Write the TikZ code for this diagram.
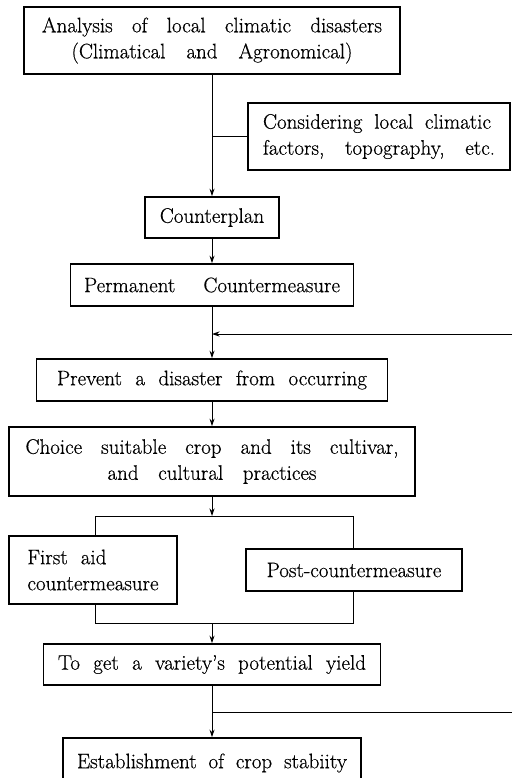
\documentclass[tikz,border=0pt]{standalone}
\usepackage{fontspec}
\setmainfont{Latin Modern Roman}[FakeBold=0.5]
\usetikzlibrary{arrows.meta}
\newcommand{\jl}[2]{\makebox[#1][s]{#2}}
\begin{document}
\begin{tikzpicture}[x=1pt,y=-1pt,
  flowbox/.style={draw, line width=1.6pt, inner sep=0pt, align=center,
    font=\fontsize{21}{26}\selectfont},
  conn/.style={line width=0.9pt},
  arr/.style={conn, -{Stealth[length=7.5pt,width=5pt]}}]
\clip (0,0) rectangle (512,778);
\fill[white] (0,0) rectangle (512,778);

\node[flowbox, minimum width=376pt, minimum height=67pt] (b1) at (212,40.5)
  {\jl{340pt}{Analysis of local climatic disasters}\\ \jl{281pt}{(Climatical and Agronomical)}};
\node[flowbox, minimum width=262pt, minimum height=67pt, align=left] (cons) at (379,136.5)
  {\jl{228pt}{Considering local climatic}\\ \jl{232pt}{factors, topography, etc.}};
\node[flowbox, minimum width=134pt, minimum height=41pt] (cp) at (212,217.5) {Counterplan};
\node[flowbox, minimum width=283pt, minimum height=42pt] (pm) at (212,285)
  {\jl{256pt}{Permanent Countermeasure}};
\node[flowbox, minimum width=351pt, minimum height=42pt] (pv) at (212,380)
  {\jl{310pt}{Prevent a disaster from occurring}};
\node[flowbox, minimum width=406pt, minimum height=69pt] (ch) at (212,461.5)
  {\jl{373pt}{Choice suitable crop and its cultivar,}\\ \jl{209pt}{and cultural practices}};
\node[flowbox, minimum width=168pt, minimum height=68pt, align=left] (fa) at (93,570)
  {\jl{79pt}{First aid}\\ countermeasure};
\node[flowbox, minimum width=216pt, minimum height=42pt] (po) at (354,570) {Post-countermeasure};
\node[flowbox, minimum width=337pt, minimum height=41pt] (tg) at (212,664.5)
  {\jl{308pt}{To get a variety's potential yield}};
\node[flowbox, minimum width=298pt, minimum height=50pt] (es) at (212,763)
  {\jl{270pt}{Establishment of crop stabiity}};

% spine
\draw[arr] (b1.south) -- (cp.north);
\draw[conn] (cons.west) -- (cons.west -| b1.south);
\draw[arr] (cp.south) -- (pm.north);
\draw[arr] (pm.south) -- (pv.north);
\coordinate (fb1) at (512,334);
\draw[arr] (fb1) -- (fb1 -| pm.south);
\draw[arr] (pv.south) -- (ch.north);
\coordinate (jt) at (212,516);
\draw[arr] (ch.south) -- (jt);
\coordinate (bl) at (95,516);
\coordinate (br) at (353,516);
\draw[conn] (bl |- fa.north) -- (bl) -- (br) -- (br |- po.north);
\coordinate (cl) at (95,623);
\coordinate (cr) at (353,623);
\coordinate (cm) at (212,623);
\draw[conn] (cl |- fa.south) -- (cl) -- (cr) -- (cr |- po.south);
\draw[arr] (cm) -- (tg.north);
\draw[arr] (tg.south) -- (es.north);
\coordinate (fb2) at (512,712);
\draw[conn] (fb2 -| tg.south) -- (fb2);
\end{tikzpicture}
\end{document}
